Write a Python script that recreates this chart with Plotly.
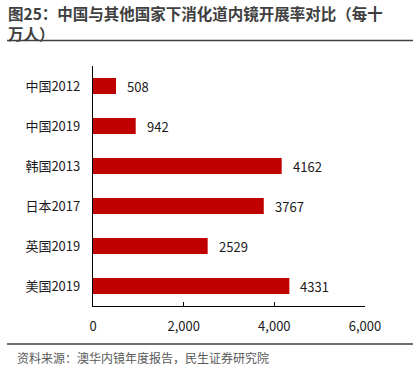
import plotly.graph_objects as go

categories = ["中国2012", "中国2019", "韩国2013", "日本2017", "英国2019", "美国2019"]
values = [508, 942, 4162, 3767, 2529, 4331]
x_ticks = [0, 2000, 4000, 6000]
x_tick_labels = ["0", "2,000", "4,000", "6,000"]

title_text = "图25：中国与其他国家下消化道内镜开展率对比（每十<br>万人）"
source_text = "资料来源：澳华内镜年度报告，民生证券研究院"

W, H = 415, 379
PLOT_L, PLOT_R, PLOT_T, PLOT_B = 93, 365, 66, 306  # pixels
L, R, T, B = PLOT_L, W - PLOT_R, PLOT_T, H - PLOT_B
PW = W - L - R
PH = H - T - B

def px_x(p):
    return (p - L) / PW

def px_y(p):
    return (H - B - p) / PH

FONT = "Noto Sans CJK SC"

fig = go.Figure()
fig.add_trace(go.Bar(
    y=categories,
    x=values,
    orientation="h",
    marker=dict(color="#c00000", line=dict(width=0)),
    width=0.4,
    hoverinfo="skip",
))

for c, v in zip(categories, values):
    fig.add_annotation(
        x=v, y=c, xref="x", yref="y",
        text=str(v), showarrow=False,
        xanchor="left", yanchor="middle", xshift=9,
        font=dict(family=FONT, size=13, color="#1a1a1a"),
    )

# title (wrapped in two lines)
fig.add_annotation(
    x=px_x(7), y=px_y(22.5), xref="paper", yref="paper",
    text="<b>" + title_text + "</b>", showarrow=False,
    xanchor="left", yanchor="middle", align="left",
    borderpad=0,
    font=dict(family=FONT, size=15.5, color="#404040"),
)
# source
fig.add_annotation(
    x=px_x(15), y=px_y(357), xref="paper", yref="paper",
    text=source_text, showarrow=False,
    xanchor="left", yanchor="middle", align="left",
    font=dict(family=FONT, size=12, color="#595959"),
)
# separator lines
for yy in (40.5, 344):
    fig.add_shape(
        type="line", xref="paper", yref="paper",
        x0=px_x(7), x1=px_x(413), y0=px_y(yy), y1=px_y(yy),
        line=dict(color="#404040", width=1.5),
    )

fig.update_layout(
    width=W, height=H,
    margin=dict(l=L, r=R, t=T, b=B, pad=0),
    paper_bgcolor="white", plot_bgcolor="white",
    showlegend=False,
    bargap=0.6,
    xaxis=dict(
        range=[0, 6000],
        tickvals=x_ticks, ticktext=x_tick_labels,
        ticks="inside", ticklen=4, tickwidth=1.3, tickcolor="black",
        showline=True, linecolor="black", linewidth=1.3,
        showgrid=False, zeroline=False,
        tickfont=dict(family=FONT, size=13, color="#1a1a1a"),
        ticklabelstandoff=8,
        fixedrange=True,
    ),
    yaxis=dict(
        autorange="reversed",
        categoryorder="array", categoryarray=categories,
        ticks="", showline=True, linecolor="black", linewidth=1.3,
        showgrid=False, zeroline=False,
        tickfont=dict(family=FONT, size=13, color="#1a1a1a"),
        ticklabelstandoff=9,
        fixedrange=True,
    ),
)

fig.write_html(
    "out.html",
    config={"displayModeBar": False},
    post_script="document.body.style.margin='0px';document.body.style.overflow='hidden';",
)
